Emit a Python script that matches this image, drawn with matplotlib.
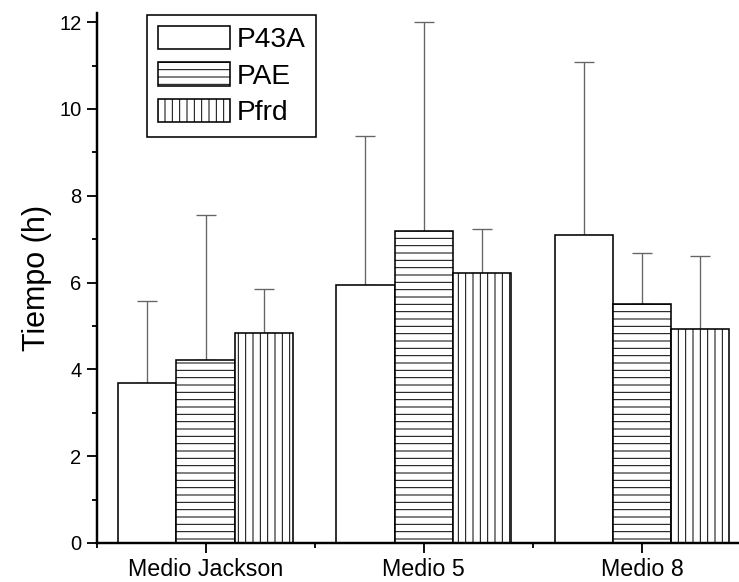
import numpy as np
import matplotlib
matplotlib.use("Agg")
import matplotlib.pyplot as plt
from matplotlib.ticker import MultipleLocator, FixedLocator

# Datos
grupos = ["Medio Jackson", "Medio 5", "Medio 8"]
series = ["P43A", "PAE", "Pfrd"]
p43a = [3.69, 5.95, 7.10]
pae = [4.22, 7.19, 5.51]
pfrd = [4.84, 6.22, 4.92]
err_p43a = [1.89, 3.43, 3.99]
err_pae = [3.34, 4.82, 1.16]
err_pfrd = [1.01, 1.01, 1.69]

valores = [p43a, pae, pfrd]
errores = [err_p43a, err_pae, err_pfrd]
tramas = ["", "--", "||"]

plt.rcParams["font.family"] = ["Liberation Sans", "DejaVu Sans"]
plt.rcParams["hatch.linewidth"] = 0.8

dpi = 88
fig = plt.figure(figsize=(739 / dpi, 582 / dpi), dpi=dpi)
ax = fig.add_axes([96.5 / 739, 39 / 582, 654.5 / 739, 530 / 582])

x = np.arange(1, len(grupos) + 1)
ancho = 0.267

for i, (nombre, vals, errs, trama) in enumerate(zip(series, valores, errores, tramas)):
    pos = x + (i - 1) * ancho
    ax.bar(pos, vals, width=ancho, color="white", edgecolor="black",
           linewidth=1.3, hatch=trama, label=nombre, zorder=2)
    ax.errorbar(pos, vals, yerr=[np.zeros(len(errs)), errs], fmt="none",
                ecolor="#666666", elinewidth=1.1, capsize=8, capthick=1.1, zorder=1)

ax.set_xlim(0.5, 3.5)
ax.set_ylim(0, 12.21)

ax.set_xticks(x)
ax.set_xticklabels(grupos, fontsize=19)
ax.xaxis.set_minor_locator(FixedLocator([0.5, 1.5, 2.5, 3.5]))
ax.yaxis.set_major_locator(MultipleLocator(2))
ax.yaxis.set_minor_locator(MultipleLocator(1))
ax.tick_params(axis="y", labelsize=16.5)

ax.tick_params(which="major", direction="out", length=8.2, width=1.5, pad=4)
ax.tick_params(which="minor", direction="out", length=4.4, width=1.5)

for lado in ["top", "right"]:
    ax.spines[lado].set_visible(False)
for lado in ["left", "bottom"]:
    ax.spines[lado].set_linewidth(2.0)

ax.set_ylabel("Tiempo (h)", fontsize=25, labelpad=6)

leg = ax.legend(loc="upper left", bbox_to_anchor=(0.077, 0.996), borderaxespad=0,
                fontsize=23, fancybox=False, edgecolor="black", framealpha=1,
                handlelength=2.57, handleheight=0.9, handletextpad=0.25,
                labelspacing=0.33, borderpad=0.38)
leg.get_frame().set_linewidth(1.3)

fig.savefig("out.png", dpi=dpi)
